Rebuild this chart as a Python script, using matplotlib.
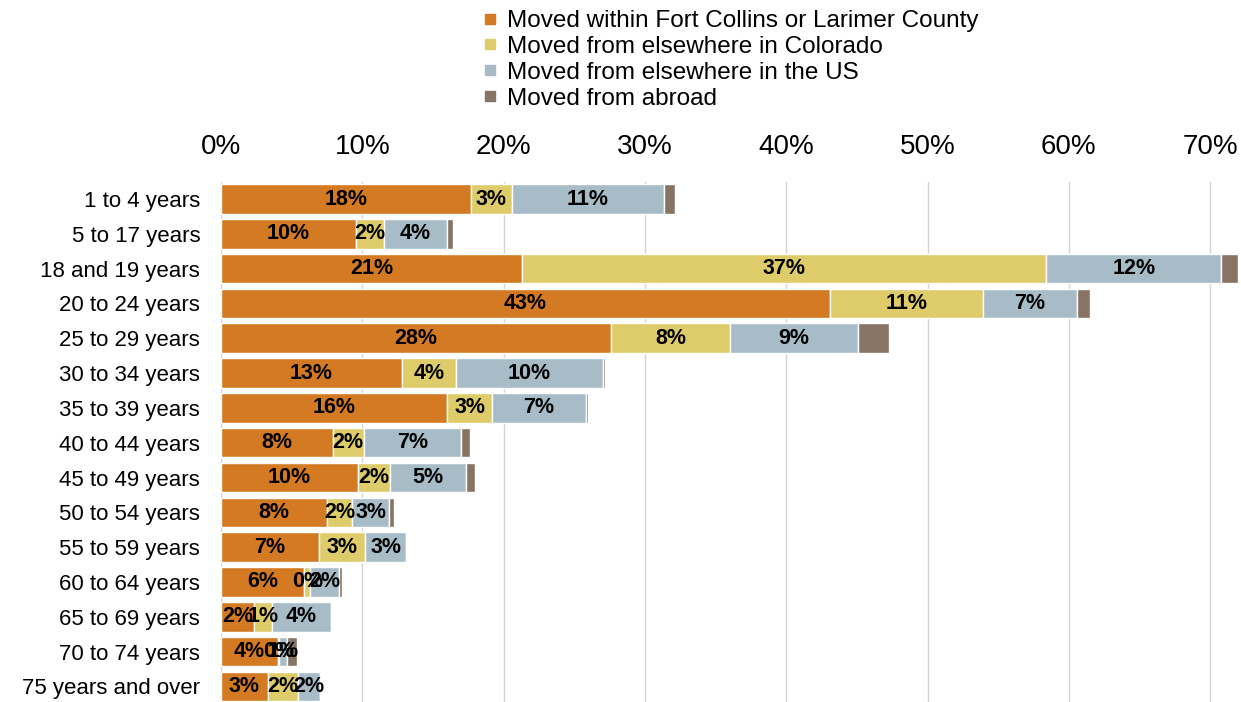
import matplotlib
matplotlib.use("Agg")
import matplotlib.pyplot as plt
from matplotlib.lines import Line2D
import numpy as np

plt.rcParams['font.family'] = ['Liberation Sans', 'DejaVu Sans']

categories = ["1 to 4 years", "5 to 17 years", "18 and 19 years", "20 to 24 years",
              "25 to 29 years", "30 to 34 years", "35 to 39 years", "40 to 44 years",
              "45 to 49 years", "50 to 54 years", "55 to 59 years", "60 to 64 years",
              "65 to 69 years", "70 to 74 years", "75 years and over"]

within_local = [17.67, 9.53, 21.3, 43.1, 27.6, 12.8, 16.0, 7.9, 9.7, 7.52, 6.95, 5.9, 2.35, 4.0, 3.3]
from_colorado = [2.9, 2.0, 37.1, 10.8, 8.45, 3.85, 3.2, 2.2, 2.25, 1.75, 3.25, 0.4, 1.25, 0.1, 2.15]
from_us = [10.8, 4.45, 12.4, 6.7, 9.0, 10.35, 6.6, 6.9, 5.4, 2.65, 2.9, 2.05, 4.2, 0.55, 1.55]
from_abroad = [0.76, 0.45, 1.2, 0.9, 2.2, 0.17, 0.2, 0.6, 0.6, 0.3, 0.0, 0.2, 0.0, 0.75, 0.0]

series_names = ["Moved within Fort Collins or Larimer County",
                "Moved from elsewhere in Colorado",
                "Moved from elsewhere in the US",
                "Moved from abroad"]
colors = ["#D47A22", "#DDCC69", "#A7BCC7", "#877464"]
xticks = [0, 10, 20, 30, 40, 50, 60, 70]
xtick_labels = ["0%", "10%", "20%", "30%", "40%", "50%", "60%", "70%"]

W, H = 1241, 702
fig = plt.figure(figsize=(W / 100, H / 100), dpi=100)
ax = fig.add_axes([221 / W, 0, 1020 / W, 520 / H])

y = np.arange(len(categories))
left = np.zeros(len(categories))
all_series = [within_local, from_colorado, from_us, from_abroad]
for i, (vals, col, name) in enumerate(zip(all_series, colors, series_names)):
    vals = np.array(vals)
    bars = ax.barh(y, vals, left=left, height=0.85, color=col, edgecolor="white",
                   linewidth=1.0, zorder=2, label=name)
    if i < 3:
        ax.bar_label(bars, labels=[f"{v:.0f}%" for v in vals], label_type="center",
                     fontsize=15.5, fontweight="bold", color="black", zorder=3)
    left = left + vals

ax.set_xlim(0, 1020 / 14.13)
ax.set_ylim(14.45, -0.49)
ax.set_yticks(y)
ax.set_yticklabels(categories, fontsize=16)
ax.set_xticks(xticks)
ax.set_xticklabels(xtick_labels, fontsize=20)
ax.xaxis.tick_top()
ax.tick_params(axis="x", length=0, pad=16)
ax.tick_params(axis="y", length=0, pad=15)
for s in ax.spines.values():
    s.set_visible(False)
ax.grid(axis="x", color="#D4D4D4", linewidth=1.0, zorder=0)
ax.set_axisbelow(True)

handles = [Line2D([], [], marker="s", linestyle="", markersize=7, color=c) for c in colors]
fig.legend(handles, series_names, loc="upper left", bbox_to_anchor=(481 / W, 1 - 10 / H),
           frameon=False, fontsize=17.5, handlelength=0.7, handletextpad=0.35,
           labelspacing=0.16, borderpad=0, borderaxespad=0)

fig.savefig("out.png", dpi=100)
